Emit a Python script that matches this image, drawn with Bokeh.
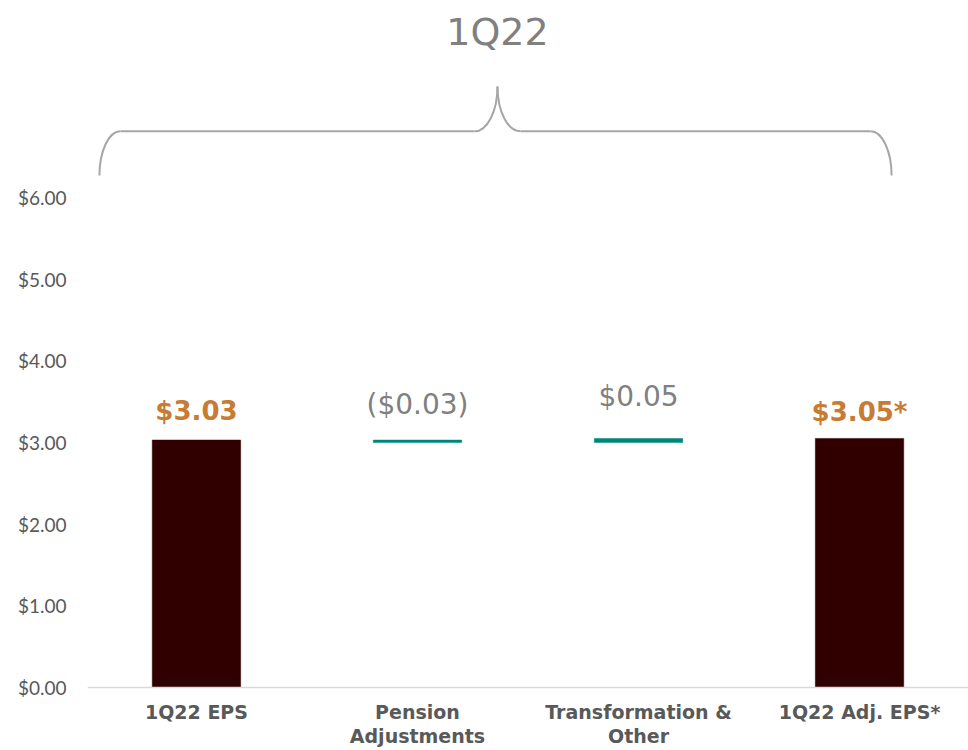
from bokeh.plotting import figure
from bokeh.models import Range1d, FixedTicker, ColumnDataSource, Span
from bokeh.core.properties import value
from bokeh.embed import file_html
from bokeh.resources import INLINE

# ---- data ----
categories = ["1Q22 EPS", "Pension\nAdjustments", "Transformation &\nOther", "1Q22 Adj. EPS*"]
kinds = ["total", "delta", "delta", "total"]
amounts = [3.03, -0.03, 0.05, 3.05]
value_labels = ["$3.03", "($0.03)", "$0.05", "$3.05*"]
y_ticks = [0, 1, 2, 3, 4, 5, 6]
y_tick_labels = ["$0.00", "$1.00", "$2.00", "$3.00", "$4.00", "$5.00", "$6.00"]
group_title = "1Q22"

# ---- waterfall geometry from data ----
x = [i + 0.5 for i in range(len(categories))]
bottoms, tops = [], []
running = 0.0
for k, a in zip(kinds, amounts):
    if k == "total":
        bottoms.append(0.0)
        tops.append(a)
        running = a
    else:
        start = running
        running = running + a
        bottoms.append(min(start, running))
        tops.append(max(start, running))

BAR_DARK = "#300000"
TEAL = "#00877c"
ORANGE = "#c77b33"
GRAY = "#808080"
AXIS_TEXT = "#595959"

colors = [BAR_DARK if k == "total" else TEAL for k in kinds]
label_colors = [ORANGE if k == "total" else GRAY for k in kinds]
label_styles = ["bold" if k == "total" else "normal" for k in kinds]
label_sizes = ["26px" if k == "total" else "28px" for k in kinds]
label_offsets = [-29, -36, -42, -26]

p = figure(width=968, height=750, output_backend="svg", toolbar_location=None,
           x_range=Range1d(0.007, 3.993), y_range=Range1d(-0.771, 8.412),
           x_axis_location=None,
           min_border_left=87, min_border_right=0, min_border_top=0, min_border_bottom=0)
p.outline_line_color = None
p.background_fill_color = "white"
p.border_fill_color = "white"
p.xgrid.visible = False
p.ygrid.visible = False

# baseline (category axis line)
p.add_layout(Span(location=0, dimension="width", line_color="#d9d9d9", line_width=1.5))

src = ColumnDataSource(dict(x=x, bottom=bottoms, top=tops, color=colors,
                            label=value_labels, lcolor=label_colors,
                            lstyle=label_styles, lsize=label_sizes, loff=label_offsets,
                            cat=categories, zero=[0.0] * len(x)))
p.vbar(x="x", bottom="bottom", top="top", width=0.4, fill_color="color",
       line_color="color", line_width=0.5, source=src)
p.text(x="x", y="top", text="label", text_color="lcolor", text_font_style="lstyle",
       text_font_size="lsize", y_offset="loff", text_font=value("DejaVu Sans"),
       text_align="center", text_baseline="alphabetic", source=src)

# category labels below the baseline
p.text(x="x", y="zero", text="cat", text_font=value("DejaVu Sans"), text_font_style="bold",
       text_font_size="19px", text_color=AXIS_TEXT, text_align="center",
       text_baseline="top", text_line_height=1.12, y_offset=13, source=src)

# ---- y axis ----
p.yaxis.ticker = FixedTicker(ticks=y_ticks)
p.yaxis.major_label_overrides = {t: l for t, l in zip(y_ticks, y_tick_labels)}
p.yaxis.axis_line_color = None
p.yaxis.major_tick_line_color = None
p.yaxis.minor_tick_line_color = None
p.yaxis.major_tick_out = 0
p.yaxis.major_tick_in = 0
p.yaxis.major_label_text_font = "Lato"
p.yaxis.major_label_text_font_size = "19px"
p.yaxis.major_label_text_color = AXIS_TEXT
p.yaxis.major_label_standoff = 21

# ---- brace decoration above the bars ----
bx0, bx1, bxc = 0.061, 3.645, 1.862
yb, yh, yp = 6.27, 6.81, 7.36
cw, pw = 0.095, 0.104
k = 0.552
bez = dict(
    x0=[bx0, bxc - pw, bxc, bx1],
    y0=[yb, yh, yp, yb],
    x1=[bx0 + cw, bxc, bxc + pw, bx1 - cw],
    y1=[yh, yp, yh, yh],
    cx0=[bx0, bxc - pw + k * pw, bxc, bx1],
    cy0=[yb + k * (yh - yb), yh, yp - k * (yp - yh), yb + k * (yh - yb)],
    cx1=[bx0 + (1 - k) * cw, bxc, bxc + (1 - k) * pw, bx1 - (1 - k) * cw],
    cy1=[yh, yp - k * (yp - yh), yh, yh],
)
p.bezier(x0="x0", y0="y0", x1="x1", y1="y1", cx0="cx0", cy0="cy0", cx1="cx1", cy1="cy1",
         source=ColumnDataSource(bez), line_color="#a6a6a6", line_width=2)
p.segment(x0=[bx0 + cw, bxc + pw], y0=[yh, yh], x1=[bxc - pw, bx1 - cw], y1=[yh, yh],
          line_color="#a6a6a6", line_width=2)
p.text(x=[bxc], y=[8.03], text=[group_title], text_font=value("DejaVu Sans"),
       text_font_size="38px", text_color=GRAY, text_align="center", text_baseline="middle")

open("out.html", "w").write(file_html(p, INLINE))
